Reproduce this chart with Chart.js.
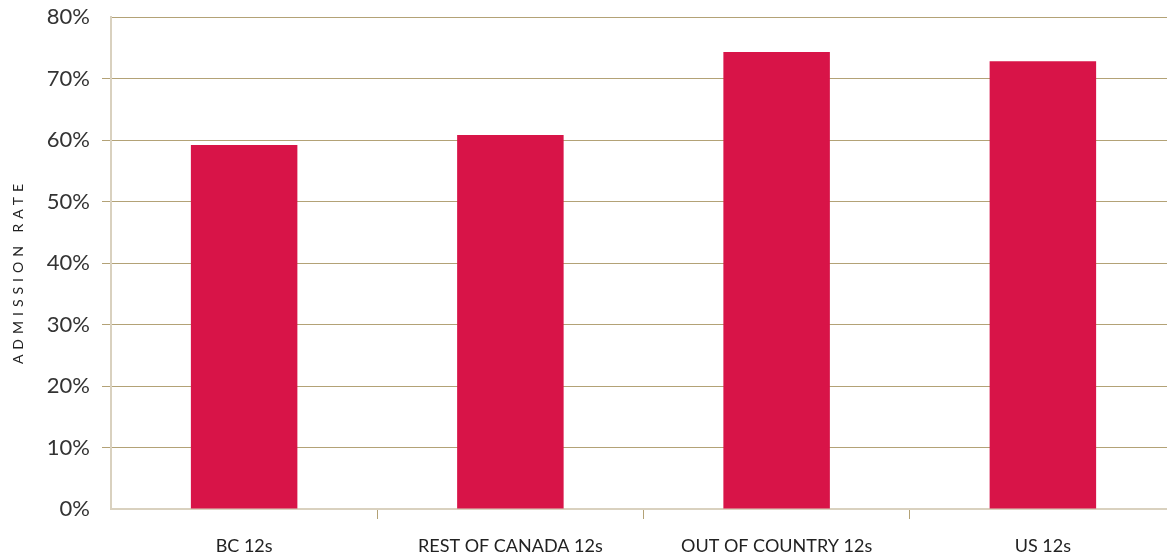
<html lang="en">
<head>
  <meta charset="UTF-8">
  <title>Admission rate</title>
  <script src="https://cdn.jsdelivr.net/npm/chart.js"></script>
  <style>
    html, body { margin: 0; padding: 0; background: #fff; overflow: hidden; }
    .wrap { position: relative; width: 1176px; height: 557px; }
  </style>
</head>
<body>
  <div class="wrap"><canvas id="rate-chart"></canvas></div>
  <script>
    // Data
    const categories = ['BC 12s', 'REST OF CANADA 12s', 'OUT OF COUNTRY 12s', 'US 12s'];
    const admissionRate = [59.2, 60.8, 74.3, 72.8];
    const yTicks = [0, 10, 20, 30, 40, 50, 60, 70, 80];

    const gold = '#b3a276';
    const pale = '#d9d1bf';

    // rotated, letter-spaced axis title
    const axisTitle = {
      id: 'axisTitle',
      afterDraw(chart) {
        const { ctx, chartArea } = chart;
        ctx.save();
        ctx.translate(18, (chartArea.top + chartArea.bottom) / 2 + 11);
        ctx.rotate(-Math.PI / 2);
        ctx.font = '14px Lato, "Open Sans", sans-serif';
        ctx.letterSpacing = '5px';
        ctx.fillStyle = '#222';
        ctx.textAlign = 'center';
        ctx.textBaseline = 'middle';
        ctx.fillText('ADMISSION RATE', 2.5, 0);
        ctx.restore();
      }
    };

    new Chart(document.getElementById('rate-chart'), {
      type: 'bar',
      data: {
        labels: categories,
        datasets: [{
          data: admissionRate,
          backgroundColor: '#d81448',
          barPercentage: 0.4,
          categoryPercentage: 1
        }]
      },
      options: {
        responsive: true,
        maintainAspectRatio: false,
        animation: false,
        layout: { padding: { top: 17, right: 0, bottom: 0, left: 0 } },
        plugins: { legend: { display: false }, tooltip: { enabled: false } },
        scales: {
          x: {
            offset: true,
            afterFit: scale => { scale.height = 48; },
            grid: {
              offset: true,
              drawOnChartArea: false,
              tickLength: 10,
              lineWidth: 1,
              tickColor: ctx => ctx.index === 0 ? 'rgba(0,0,0,0)' : gold
            },
            border: { color: pale, width: 2 },
            ticks: {
              padding: 16,
              color: '#222',
              font: { family: 'Lato, "Open Sans", sans-serif', size: 18 }
            }
          },
          y: {
            min: 0,
            max: 80,
            afterBuildTicks: scale => { scale.ticks = yTicks.map(v => ({ value: v })); },
            afterFit: scale => {
              scale.width = 111;
              scale.paddingTop = 0;
              scale.paddingBottom = 0;
            },
            grid: {
              color: gold,
              lineWidth: 1,
              tickLength: 9,
              tickColor: ctx => (ctx.tick && (ctx.tick.value === 0 || ctx.tick.value === 80)) ? 'rgba(0,0,0,0)' : gold
            },
            border: { color: pale, width: 2 },
            ticks: {
              padding: 12,
              color: '#333',
              font: { family: 'Lato, "Open Sans", sans-serif', size: 22 },
              callback: v => v + '%'
            }
          }
        }
      },
      plugins: [axisTitle]
    });
  </script>
</body>
</html>
